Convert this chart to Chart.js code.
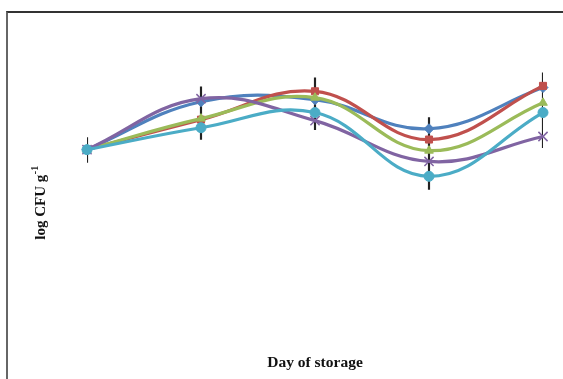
<!DOCTYPE html>
<html>
<head>
<meta charset="utf-8">
<script src="https://cdn.jsdelivr.net/npm/chart.js@4.4.0/dist/chart.umd.min.js"></script>
<style>
  body { margin: 0; background: #fff; }
  #wrap { position: relative; width: 563px; height: 379px; overflow: hidden; }
  #frame { position: absolute; left: 6px; top: 11px; width: 600px; height: 400px;
           border-left: 2px solid #666; border-top: 2px solid #333; }
  #chart { position: absolute; left: 0; top: 0; }
</style>
</head>
<body>
<div id="wrap">
  <div id="frame"></div>
  <canvas id="chart" width="563" height="379"></canvas>
</div>
<script>
const days = ['0', '1', '2', '3', '4'];

const seriesBlue   = [5.92, 7.34, 7.40, 6.54, 7.76];
const seriesRed    = [5.92, 6.81, 7.65, 6.22, 7.81];
const seriesGreen  = [5.92, 6.84, 7.46, 5.89, 7.31];
const seriesPurple = [5.92, 7.43, 6.78, 5.57, 6.31];
const seriesCyan   = [5.92, 6.57, 7.02, 5.13, 7.02];

// error bar ranges (high, low) per day
const errHigh = [6.28, 7.78, 8.05, 6.87, 8.20];
const errLow  = [5.54, 6.22, 6.51, 4.74, 5.98];

const yTitle = 'log CFU g';
const yTitleSup = '-1';
const xTitle = 'Day of storage';

const serif = '"Liberation Serif", "Times New Roman", serif';

function line(data, color, style, order) {
    return {
        type: 'line',
        data: data,
        borderColor: color,
        backgroundColor: color,
        pointBorderColor: color,
        borderWidth: 3.2,
        tension: 0.4,
        pointStyle: style,
        pointRadius: style === 'crossRot' ? 6.5 : 5,
        pointBorderWidth: style === 'crossRot' ? 1.5 : 1,
        order: order
    };
}

// y axis title drawn rotated with a superscript
const yTitlePlugin = {
    id: 'yTitle',
    afterDraw(chart) {
        const c = chart.ctx;
        c.save();
        c.translate(41, 203);
        c.rotate(-Math.PI / 2);
        c.fillStyle = '#111';
        c.textBaseline = 'middle';
        c.textAlign = 'left';
        c.font = 'bold 15px ' + serif;
        const w1 = c.measureText(yTitle).width;
        c.font = 'bold 10px ' + serif;
        const w2 = c.measureText(yTitleSup).width;
        const start = -(w1 + w2) / 2;
        c.font = 'bold 15px ' + serif;
        c.fillText(yTitle, start, 0);
        c.font = 'bold 10px ' + serif;
        c.fillText(yTitleSup, start + w1 + 0.5, -6);
        c.restore();
    }
};

const ctx = document.getElementById('chart').getContext('2d');
const myChart = new Chart(ctx, {
    type: 'line',
    data: {
        labels: days,
        datasets: [
            {
                type: 'bar',
                data: days.map((d, i) => [errLow[i], errHigh[i]]),
                backgroundColor: '#222',
                barThickness: 1.5,
                order: 10
            },
            line(seriesBlue, '#4f81bd', 'rectRot', 5),
            line(seriesRed, '#c0504d', 'rect', 4),
            line(seriesGreen, '#9bbb59', 'triangle', 3),
            line(seriesPurple, '#8064a2', 'crossRot', 2),
            line(seriesCyan, '#4bacc6', 'circle', 1)
        ]
    },
    options: {
        responsive: false,
        animation: false,
        layout: { padding: { left: 87, right: 20, top: 12, bottom: 3 } },
        plugins: { legend: { display: false }, tooltip: { enabled: false } },
        scales: {
            x: {
                offset: false,
                grid: { display: false, drawTicks: false },
                border: { display: false },
                ticks: { display: false },
                title: {
                    display: true,
                    text: xTitle,
                    color: '#111',
                    font: { family: serif, size: 15.5, weight: 'bold' },
                    padding: { top: 4, bottom: 4 }
                }
            },
            y: {
                display: false,
                min: 0,
                max: 10
            }
        }
    },
    plugins: [yTitlePlugin]
});
</script>
</body>
</html>
